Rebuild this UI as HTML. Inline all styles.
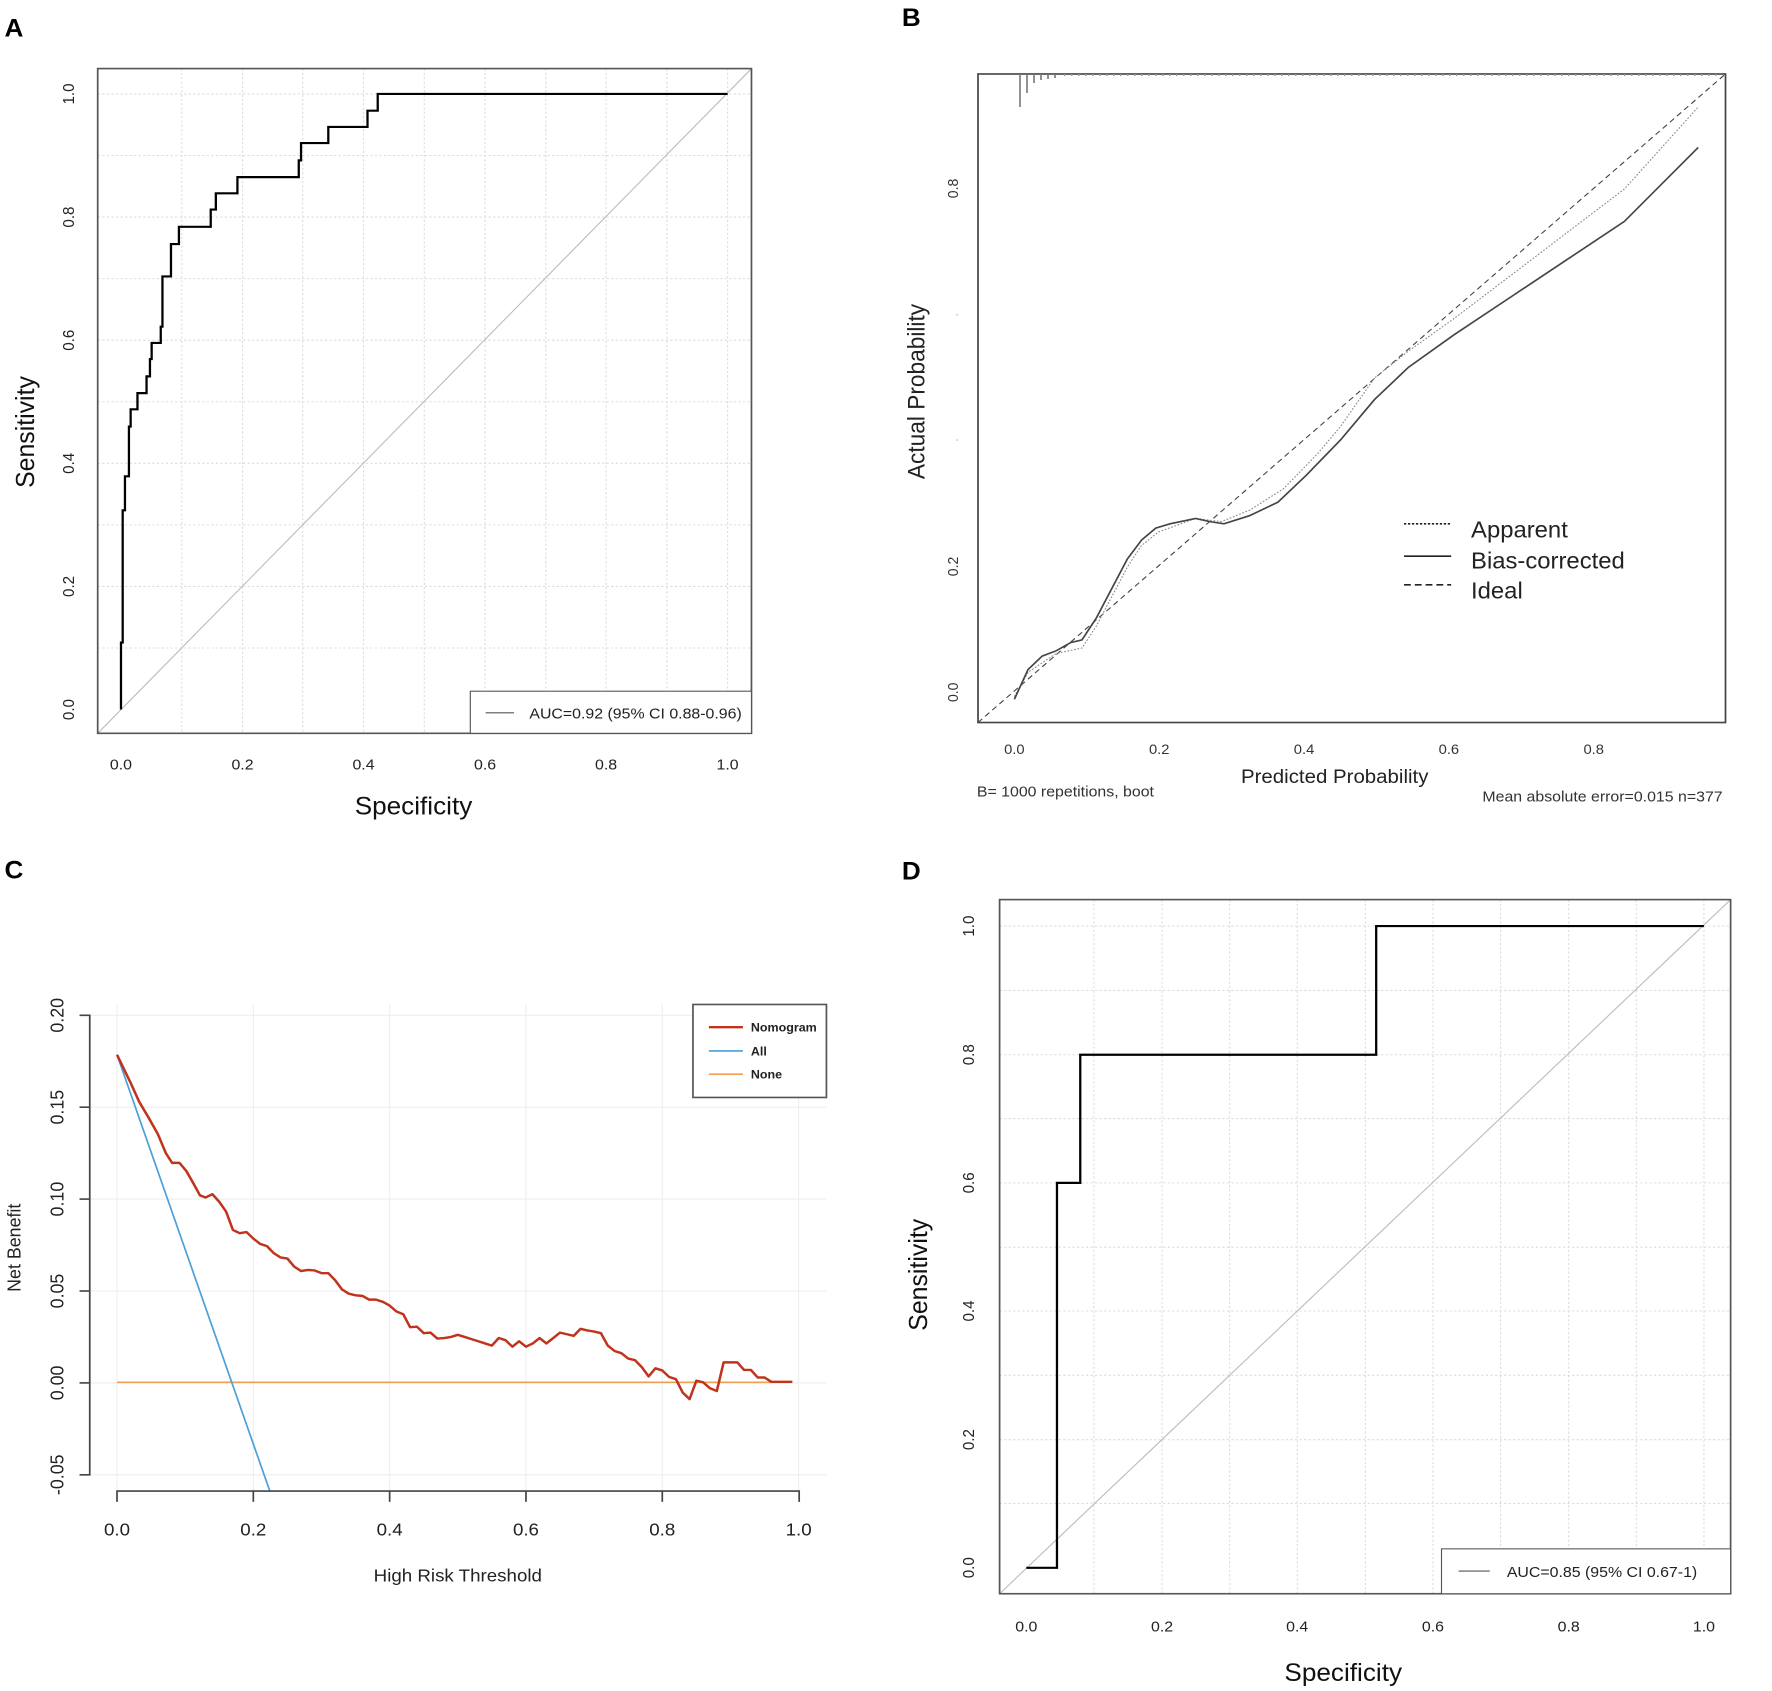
<!DOCTYPE html>
<html><head><meta charset="utf-8"><style>
html,body{margin:0;padding:0;background:#fff}
svg{display:block}
text{font-family:"Liberation Sans",sans-serif}
</style></head><body>
<svg width="1772" height="1691" viewBox="0 0 1772 1691" xmlns="http://www.w3.org/2000/svg">
<defs>
<pattern id="rug" x="0" y="0" width="7" height="6" patternUnits="userSpaceOnUse"><rect x="0" y="0" width="1.5" height="4" fill="#999"/></pattern>
</defs>
<!-- Panel A -->
<g transform="translate(0,0) scale(0.568,0.540)">
<text x="8" y="68" font-size="46" font-weight="bold">A</text>
<g stroke="#ddd" stroke-width="2" stroke-dasharray="4,4">
<line x1="320" y1="127" x2="320" y2="1358"/><line x1="427" y1="127" x2="427" y2="1358"/><line x1="533" y1="127" x2="533" y2="1358"/><line x1="640" y1="127" x2="640" y2="1358"/><line x1="747" y1="127" x2="747" y2="1358"/><line x1="854" y1="127" x2="854" y2="1358"/><line x1="961" y1="127" x2="961" y2="1358"/><line x1="1067" y1="127" x2="1067" y2="1358"/><line x1="1174" y1="127" x2="1174" y2="1358"/><line x1="1281" y1="127" x2="1281" y2="1358"/>
<line x1="172" y1="1200" x2="1323" y2="1200"/><line x1="172" y1="1086" x2="1323" y2="1086"/><line x1="172" y1="972" x2="1323" y2="972"/><line x1="172" y1="858" x2="1323" y2="858"/><line x1="172" y1="744" x2="1323" y2="744"/><line x1="172" y1="630" x2="1323" y2="630"/><line x1="172" y1="516" x2="1323" y2="516"/><line x1="172" y1="402" x2="1323" y2="402"/><line x1="172" y1="288" x2="1323" y2="288"/><line x1="172" y1="174" x2="1323" y2="174"/>
</g>
<line x1="172" y1="1358" x2="1323" y2="127" stroke="#bbb" stroke-width="2"/>
<polyline fill="none" stroke="#000" stroke-width="4" points="213,1314 213,1190 216,1190 216,945 220,945 220,882 227,882 227,790 230,790 230,758 242,758 242,728 258,728 258,697 264,697 264,665 267,665 267,635 283,635 283,605 286,605 286,512 301,512 301,452 315,452 315,420 371,420 371,388 380,388 380,358 418,358 418,328 526,328 526,297 530,297 530,265 578,265 578,235 647,235 647,205 665,205 665,174 1281,174"/>
<rect x="172" y="127" width="1151" height="1231" fill="none" stroke="#555" stroke-width="3"/>
<rect x="828" y="1280" width="495" height="78" fill="#fff" stroke="#555" stroke-width="2"/>
<line x1="855" y1="1320" x2="905" y2="1320" stroke="#555" stroke-width="2"/>
<text x="932" y="1331" font-size="28" fill="#222">AUC=0.92 (95% CI 0.88-0.96)</text>
<g font-size="28" fill="#222" text-anchor="middle">
<text x="213" y="1425">0.0</text><text x="427" y="1425">0.2</text><text x="640" y="1425">0.4</text><text x="854" y="1425">0.6</text><text x="1067" y="1425">0.8</text><text x="1281" y="1425">1.0</text>
<text transform="translate(130,1314) rotate(-90)">0.0</text><text transform="translate(130,1086) rotate(-90)">0.2</text><text transform="translate(130,858) rotate(-90)">0.4</text><text transform="translate(130,630) rotate(-90)">0.6</text><text transform="translate(130,402) rotate(-90)">0.8</text><text transform="translate(130,174) rotate(-90)">1.0</text>
</g>
<text x="728" y="1508" font-size="46" text-anchor="middle" fill="#111">Specificity</text>
<text transform="translate(60,800) rotate(-90)" font-size="46" text-anchor="middle" fill="#111">Sensitivity</text>
</g>

<!-- Panel B -->
<g transform="translate(886,0) scale(0.568,0.540)">
<text x="28" y="48" font-size="46" font-weight="bold">B</text>
<line x1="162" y1="1338" x2="1478" y2="137" stroke="#444" stroke-width="2" stroke-dasharray="10,7"/>
<polyline fill="none" stroke="#888" stroke-width="2" stroke-dasharray="3,3" points="226,1290 250,1245 300,1210 345,1200 370,1160 400,1100 425,1050 450,1010 480,985 545,960 590,966 640,945 700,905 760,840 800,790 860,700 920,650 1000,590 1100,510 1200,430 1300,350 1430,198"/>
<polyline fill="none" stroke="#444" stroke-width="3" points="226,1295 250,1240 275,1215 300,1205 325,1190 345,1185 370,1145 400,1085 425,1035 450,1000 475,978 500,970 545,960 570,966 595,970 640,955 690,930 740,880 800,815 860,740 920,680 1000,620 1100,550 1200,480 1300,410 1430,273"/>
<rect x="162" y="137" width="1316" height="1201" fill="none" stroke="#444" stroke-width="3"/>
<line x1="912" y1="970" x2="995" y2="970" stroke="#222" stroke-width="3" stroke-dasharray="4,3"/>
<line x1="912" y1="1030" x2="995" y2="1030" stroke="#222" stroke-width="3"/>
<line x1="912" y1="1083" x2="995" y2="1083" stroke="#222" stroke-width="3" stroke-dasharray="12,7"/>
<g font-size="42" fill="#222">
<text x="1030" y="995">Apparent</text><text x="1030" y="1053">Bias-corrected</text><text x="1030" y="1108">Ideal</text>
</g>
<g font-size="26" fill="#333" text-anchor="middle">
<text x="226" y="1396">0.0</text><text x="481" y="1396">0.2</text><text x="736" y="1396">0.4</text><text x="991" y="1396">0.6</text><text x="1246" y="1396">0.8</text>
<text transform="translate(127,1282) rotate(-90)">0.0</text><text transform="translate(127,1049) rotate(-90)">0.2</text><text transform="translate(127,349) rotate(-90)">0.8</text>
<text transform="translate(127,583) rotate(-90)" fill="#bbb">.</text><text transform="translate(127,815) rotate(-90)" fill="#bbb">.</text>
</g>
<text transform="translate(68,725) rotate(-90)" font-size="42" text-anchor="middle" fill="#222">Actual Probability</text>
<text x="790" y="1450" font-size="36" text-anchor="middle" fill="#222">Predicted Probability</text>
<text x="160" y="1475" font-size="28" fill="#333">B= 1000 repetitions, boot</text>
<text x="1050" y="1484" font-size="28" fill="#333">Mean absolute error=0.015 n=377</text>
</g>
<!-- rug (actual coords) -->
<g stroke="#777" stroke-width="1.6">
<line x1="1020" y1="74" x2="1020" y2="107"/><line x1="1027" y1="74" x2="1027" y2="93"/><line x1="1034" y1="74" x2="1034" y2="83"/><line x1="1041" y1="74" x2="1041" y2="80"/><line x1="1048" y1="74" x2="1048" y2="79"/><line x1="1055" y1="74" x2="1055" y2="78"/>
</g>
<rect x="1062" y="74" width="660" height="3" fill="url(#rug)"/>

<!-- Panel C -->
<g transform="translate(0,845) scale(0.568,0.5406)">
<text x="8" y="62" font-size="46" font-weight="bold">C</text>
<g stroke="#eee" stroke-width="2">
<line x1="158" y1="315" x2="1455" y2="315"/><line x1="158" y1="485" x2="1455" y2="485"/><line x1="158" y1="655" x2="1455" y2="655"/><line x1="158" y1="825" x2="1455" y2="825"/><line x1="158" y1="995" x2="1455" y2="995"/><line x1="158" y1="1165" x2="1455" y2="1165"/>
<line x1="206" y1="295" x2="206" y2="1195"/><line x1="446" y1="295" x2="446" y2="1195"/><line x1="686" y1="295" x2="686" y2="1195"/><line x1="926" y1="295" x2="926" y2="1195"/><line x1="1166" y1="295" x2="1166" y2="1195"/><line x1="1406" y1="295" x2="1406" y2="1195"/>
</g>
<line x1="206" y1="994" x2="1395" y2="994" stroke="#f0a050" stroke-width="3"/>
<line x1="206" y1="388" x2="475" y2="1195" stroke="#4aa0d8" stroke-width="3"/>
<polyline fill="none" stroke="#c0341d" stroke-width="4.5" stroke-linejoin="round" points="206,388 230,440 245,475 262,505 278,535 292,570 303,588 316,588 328,603 340,625 352,648 362,652 374,646 386,660 398,678 410,712 422,718 434,716 446,728 458,738 470,742 482,755 494,763 506,765 518,780 530,788 542,786 554,787 566,792 578,792 590,805 602,822 614,830 626,833 638,834 650,841 662,841 674,845 686,852 698,863 710,868 722,892 734,891 746,903 758,902 770,913 782,912 794,910 806,906 818,910 830,914 842,918 854,922 866,926 878,912 890,916 902,928 914,918 926,928 938,922 950,912 962,922 974,912 986,902 998,905 1010,908 1022,895 1034,898 1046,900 1058,903 1070,926 1082,936 1094,940 1106,950 1118,953 1130,966 1142,983 1154,968 1166,972 1178,984 1190,988 1202,1013 1214,1025 1226,991 1238,994 1250,1005 1262,1010 1274,957 1286,957 1298,957 1310,971 1322,971 1334,985 1346,985 1358,993 1370,993 1395,993"/>
<g stroke="#444" stroke-width="3" fill="none">
<polyline points="140,315 158,315 158,1165 140,1165"/>
<line x1="140" y1="485" x2="158" y2="485"/><line x1="140" y1="655" x2="158" y2="655"/><line x1="140" y1="825" x2="158" y2="825"/><line x1="140" y1="995" x2="158" y2="995"/>
<polyline points="206,1215 206,1195 1407,1195 1407,1215"/>
<line x1="446" y1="1195" x2="446" y2="1215"/><line x1="686" y1="1195" x2="686" y2="1215"/><line x1="926" y1="1195" x2="926" y2="1215"/><line x1="1166" y1="1195" x2="1166" y2="1215"/>
</g>
<rect x="1220" y="295" width="235" height="172" fill="#fff" stroke="#555" stroke-width="3"/>
<line x1="1248" y1="337" x2="1308" y2="337" stroke="#c0341d" stroke-width="4.5"/>
<line x1="1248" y1="381" x2="1308" y2="381" stroke="#4aa0d8" stroke-width="3"/>
<line x1="1248" y1="424" x2="1308" y2="424" stroke="#f0a050" stroke-width="3"/>
<g font-size="22" font-weight="bold" fill="#222"><text x="1322" y="345">Nomogram</text><text x="1322" y="389">All</text><text x="1322" y="432">None</text></g>
<g font-size="33" fill="#222" text-anchor="middle">
<text x="206" y="1277">0.0</text><text x="446" y="1277">0.2</text><text x="686" y="1277">0.4</text><text x="926" y="1277">0.6</text><text x="1166" y="1277">0.8</text><text x="1406" y="1277">1.0</text>
<text transform="translate(112,315) rotate(-90)">0.20</text><text transform="translate(112,485) rotate(-90)">0.15</text><text transform="translate(112,655) rotate(-90)">0.10</text><text transform="translate(112,825) rotate(-90)">0.05</text><text transform="translate(112,995) rotate(-90)">0.00</text><text transform="translate(112,1165) rotate(-90)">-0.05</text>
</g>
<text x="806" y="1362" font-size="33" text-anchor="middle" fill="#222">High Risk Threshold</text>
<text transform="translate(36,745) rotate(-90)" font-size="33" text-anchor="middle" fill="#222">Net Benefit</text>
</g>

<!-- Panel D -->
<g transform="translate(886,845) scale(0.568,0.5406)">
<text x="28" y="64" font-size="46" font-weight="bold">D</text>
<g stroke="#ddd" stroke-width="2" stroke-dasharray="4,4">
<line x1="366" y1="101" x2="366" y2="1385"/><line x1="486" y1="101" x2="486" y2="1385"/><line x1="605" y1="101" x2="605" y2="1385"/><line x1="724" y1="101" x2="724" y2="1385"/><line x1="844" y1="101" x2="844" y2="1385"/><line x1="963" y1="101" x2="963" y2="1385"/><line x1="1082" y1="101" x2="1082" y2="1385"/><line x1="1202" y1="101" x2="1202" y2="1385"/><line x1="1321" y1="101" x2="1321" y2="1385"/><line x1="1440" y1="101" x2="1440" y2="1385"/>
<line x1="200" y1="1218" x2="1487" y2="1218"/><line x1="200" y1="1100" x2="1487" y2="1100"/><line x1="200" y1="981" x2="1487" y2="981"/><line x1="200" y1="862" x2="1487" y2="862"/><line x1="200" y1="744" x2="1487" y2="744"/><line x1="200" y1="625" x2="1487" y2="625"/><line x1="200" y1="506" x2="1487" y2="506"/><line x1="200" y1="388" x2="1487" y2="388"/><line x1="200" y1="269" x2="1487" y2="269"/><line x1="200" y1="150" x2="1487" y2="150"/>
</g>
<line x1="200" y1="1385" x2="1487" y2="101" stroke="#bbb" stroke-width="2"/>
<polyline fill="none" stroke="#000" stroke-width="4" points="247,1337 301,1337 301,625 342,625 342,388 863,388 863,150 1440,150"/>
<rect x="200" y="101" width="1287" height="1284" fill="none" stroke="#555" stroke-width="3"/>
<rect x="978" y="1302" width="509" height="83" fill="#fff" stroke="#555" stroke-width="2"/>
<line x1="1008" y1="1343" x2="1063" y2="1343" stroke="#555" stroke-width="2"/>
<text x="1093" y="1354" font-size="28" fill="#222">AUC=0.85 (95% CI 0.67-1)</text>
<g font-size="28" fill="#222" text-anchor="middle">
<text x="247" y="1455">0.0</text><text x="486" y="1455">0.2</text><text x="724" y="1455">0.4</text><text x="963" y="1455">0.6</text><text x="1202" y="1455">0.8</text><text x="1440" y="1455">1.0</text>
<text transform="translate(155,1337) rotate(-90)">0.0</text><text transform="translate(155,1100) rotate(-90)">0.2</text><text transform="translate(155,862) rotate(-90)">0.4</text><text transform="translate(155,625) rotate(-90)">0.6</text><text transform="translate(155,388) rotate(-90)">0.8</text><text transform="translate(155,150) rotate(-90)">1.0</text>
</g>
<text x="805" y="1546" font-size="46" text-anchor="middle" fill="#111">Specificity</text>
<text transform="translate(72,795) rotate(-90)" font-size="46" text-anchor="middle" fill="#111">Sensitivity</text>
</g>
</svg>
</body></html>
